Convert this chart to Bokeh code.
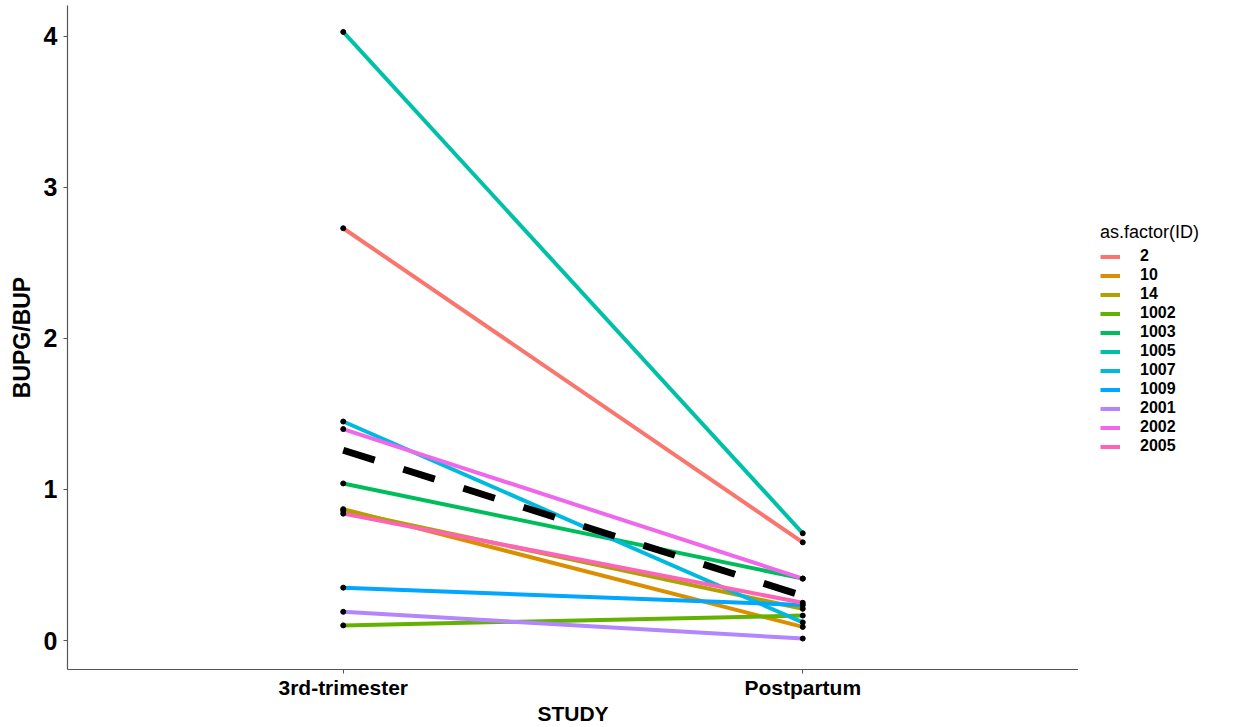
from bokeh.plotting import figure
from bokeh.layouts import row
from bokeh.models import Range1d, FactorRange, FixedTicker, Legend, LegendItem, ColumnDataSource
from bokeh.embed import file_html
from bokeh.resources import INLINE

# ---- data ----
studies = ["3rd-trimester", "Postpartum"]
ids = ["2", "10", "14", "1002", "1003", "1005", "1007", "1009", "2001", "2002", "2005"]
trimester = [2.73, 0.87, 0.86, 0.10, 1.04, 4.03, 1.45, 0.35, 0.19, 1.40, 0.84]
postpartum = [0.65, 0.09, 0.21, 0.165, 0.41, 0.71, 0.12, 0.235, 0.013, 0.41, 0.25]
colors = ["#F8766D", "#DB8E00", "#AEA200", "#64B200", "#00BD5C", "#00C1A7",
          "#00BADE", "#00A6FF", "#B385FF", "#EF67EB", "#FF63B6"]
y_ticks = [0, 1, 2, 3, 4]

mean_vals = [sum(trimester) / len(trimester), sum(postpartum) / len(postpartum)]

FONT = "Liberation Sans"

p = figure(width=1078, height=727, output_backend="svg", toolbar_location=None,
           x_range=FactorRange(factors=studies, range_padding=0.1, range_padding_units="absolute"),
           y_range=Range1d(-0.192, 4.205),
           min_border_left=67, min_border_right=0, min_border_top=5, min_border_bottom=58)

p.background_fill_color = "white"
p.border_fill_color = "white"
p.outline_line_color = None
p.xgrid.visible = False
p.ygrid.visible = False

for i, id_ in enumerate(ids):
    src = ColumnDataSource(dict(x=studies, y=[trimester[i], postpartum[i]]))
    p.line("x", "y", source=src, line_color=colors[i], line_width=4)

for i, id_ in enumerate(ids):
    src = ColumnDataSource(dict(x=studies, y=[trimester[i], postpartum[i]]))
    p.scatter("x", "y", source=src, size=5, fill_color="black", line_color="black")

msrc = ColumnDataSource(dict(x=studies, y=mean_vals))
p.line("x", "y", source=msrc, line_color="black", line_width=7, line_dash="33 30", line_cap="butt")

# axes
for ax in (p.xaxis[0], p.yaxis[0]):
    ax.axis_line_color = "#555555"
    ax.axis_line_width = 1.2
    ax.major_tick_line_color = "#555555"
    ax.major_tick_out = 4
    ax.major_tick_in = 0
    ax.minor_tick_line_color = None
    ax.major_label_text_font = FONT
    ax.major_label_text_font_style = "bold"
    ax.major_label_text_color = "black"
    ax.axis_label_text_font = FONT
    ax.axis_label_text_font_style = "bold"
    ax.axis_label_text_color = "black"

p.yaxis.ticker = FixedTicker(ticks=y_ticks)
p.yaxis.major_label_text_font_size = "25px"
p.yaxis.axis_label = "BUPG/BUP"
p.yaxis.axis_label_text_font_size = "23px"
p.yaxis.major_label_standoff = 6
p.yaxis.axis_label_standoff = 6

p.xaxis.axis_label = "STUDY"
p.xaxis.major_label_text_font_size = "21px"
p.xaxis.axis_label_text_font_size = "21px"
p.xaxis.major_label_standoff = 2
p.xaxis.axis_label_standoff = 0

# ---- legend panel (proxy renderers drawn outside this panel's visible range) ----
lf = figure(width=159, height=727, output_backend="svg", toolbar_location=None,
            x_range=Range1d(100, 101), y_range=Range1d(100, 101),
            min_border=0)
lf.axis.visible = False
lf.grid.visible = False
lf.outline_line_color = None
lf.background_fill_color = "white"
lf.border_fill_color = "white"

items = []
for i, id_ in enumerate(ids):
    r = lf.line(x=[1, 2], y=[trimester[i], postpartum[i]], line_color=colors[i], line_width=4)
    items.append(LegendItem(label=id_, renderers=[r]))

legend = Legend(items=items, title="as.factor(ID)", location=(22, 214))
legend.title_text_font = FONT
legend.title_text_font_size = "18px"
legend.title_text_font_style = "normal"
legend.title_text_color = "black"
legend.title_standoff = 4
legend.label_text_font = FONT
legend.label_text_font_size = "16px"
legend.label_text_font_style = "bold"
legend.label_text_color = "black"
legend.label_height = 15
legend.glyph_height = 15
legend.glyph_width = 20
legend.spacing = 1
legend.border_line_color = None
legend.background_fill_alpha = 0
legend.padding = 4
legend.margin = 0
legend.label_standoff = 20
lf.add_layout(legend)

layout = row(p, lf, spacing=0)
open("out.html", "w").write(file_html(layout, INLINE))
